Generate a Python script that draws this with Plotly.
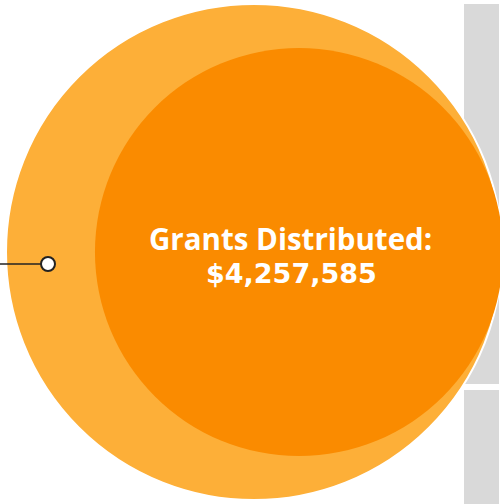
import plotly.graph_objects as go
import math

# Data
labels = ["Total Funds", "Grants Distributed"]
amounts = [6290000, 4257585]          # outer estimate, inner value
colors = ["#FDAF38", "#FA8B00"]
callout_label = "Grants Distributed:"
callout_value = "$4,257,585"

W, H = 500, 504
outer_r = 248
scale = outer_r / math.sqrt(amounts[0])
radii = [scale * math.sqrt(a) for a in amounts]
centers = [(254, 252), (299, 252)]

fig = go.Figure()

# gray side panels
fig.add_shape(type="rect", x0=464, x1=499, y0=4, y1=384, xref="x", yref="y",
              fillcolor="#D9D9D9", line=dict(width=0), layer="below")
fig.add_shape(type="rect", x0=464, x1=499, y0=390, y1=504, xref="x", yref="y",
              fillcolor="#D9D9D9", line=dict(width=0), layer="below")

for (cx, cy), r, c, i in zip(centers, radii, colors, range(2)):
    fig.add_shape(type="circle", x0=cx - r, x1=cx + r, y0=cy - r, y1=cy + r,
                  xref="x", yref="y", fillcolor=c,
                  line=dict(color="white", width=2 if i == 0 else 0), layer="below")

# leader line with marker
fig.add_trace(go.Scatter(x=[0, 48], y=[264, 264], mode="lines",
                         line=dict(color="#222222", width=1.5),
                         hoverinfo="skip", showlegend=False))
fig.add_trace(go.Scatter(x=[48], y=[264], mode="markers",
                         marker=dict(size=14, color="#FFFFFF", opacity=1,
                                     line=dict(color="#222222", width=2)),
                         hoverinfo="skip", showlegend=False))

fig.add_annotation(x=290, y=238, xref="x", yref="y",
                   text=f"<b>{callout_label}</b>",
                   showarrow=False,
                   font=dict(family="Open Sans", size=29.5, color="white"))
fig.add_annotation(x=291, y=273, xref="x", yref="y",
                   text=f"<b>{callout_value}</b>",
                   showarrow=False,
                   font=dict(family="DejaVu Sans", size=27, color="white"))

fig.update_xaxes(range=[0, W], visible=False, fixedrange=True)
fig.update_yaxes(range=[H, 0], visible=False, fixedrange=True)
fig.update_layout(width=W, height=H, margin=dict(l=0, r=0, t=0, b=0),
                  paper_bgcolor="white", plot_bgcolor="white")
fig.write_html("out.html", config={"displayModeBar": False},
               post_script="document.body.style.margin='0';")
